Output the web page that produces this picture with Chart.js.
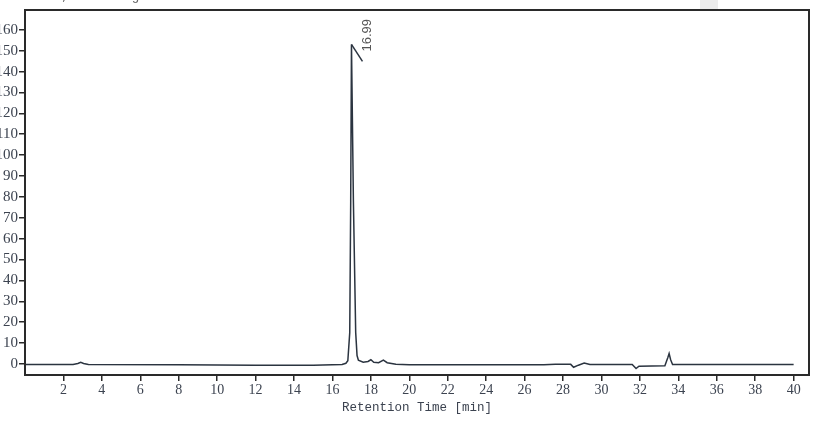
<!DOCTYPE html>
<html>
<head>
<meta charset="utf-8">
<script src="https://cdn.jsdelivr.net/npm/chart.js@4.4.1/dist/chart.umd.min.js"></script>
<style>
  html, body { margin: 0; padding: 0; background: #fff; }
  #wrap { width: 818px; height: 421px; position: relative; }
</style>
</head>
<body>
<div id="wrap"><canvas id="chart" width="818" height="421"></canvas></div>
<script>
// retention time (min) and detector response
const times = [
    0, 2.5, 2.75, 2.9, 3.05, 3.3, 8, 12, 15, 16.5, 16.7, 16.8,
    16.9, 16.95, 16.99, 17.09, 17.21, 17.28, 17.35, 17.6, 17.85, 18.0, 18.15, 18.4,
    18.65, 18.85, 19.3, 20, 27, 27.6, 28.4, 28.55, 28.8, 29.1, 29.4, 31.6,
    31.8, 31.95, 33.3, 33.45, 33.52, 33.6, 33.7, 40
];
const signal = [
    -0.3, -0.3, 0.2, 0.8, 0.2, -0.3, -0.4, -0.6, -0.6, -0.3, 0.3, 1.5,
    15, 78, 153, 78, 15, 4, 1.8, 0.8, 1.2, 2.0, 0.8, 0.6,
    1.8, 0.6, -0.2, -0.4, -0.4, -0.2, -0.2, -1.6, -0.6, 0.4, -0.3, -0.3,
    -2.2, -1.1, -0.9, 3, 5, 2, -0.3, -0.3
];
const xTicks = [2, 4, 6, 8, 10, 12, 14, 16, 18, 20, 22, 24, 26, 28, 30, 32, 34, 36, 38, 40];
const yTicks = [0, 10, 20, 30, 40, 50, 60, 70, 80, 90, 100, 110, 120, 130, 140, 150, 160];
const peakTime = 16.99;
const peakValue = 153;
const peakLabel = "16.99";
const headerText = "VWD1, Wavelength=280 nm";

const points = times.map((t, i) => ({ x: t, y: signal[i] }));

const framePlugin = {
    id: "frame",
    afterDraw(c) {
        const ctx = c.ctx;
        const a = c.chartArea;
        const xs = c.scales.x, ys = c.scales.y;
        ctx.save();
        // header, mostly cut off at the top
        ctx.fillStyle = "#666";
        ctx.font = "13px 'Liberation Mono'";
        ctx.textBaseline = "bottom";
        ctx.fillText(headerText, 30, 3);
        ctx.fillStyle = "#ececec";
        ctx.fillRect(700, 0, 18, 9);
        // frame
        ctx.strokeStyle = "#2a2a2a";
        ctx.lineWidth = 2;
        ctx.strokeRect(a.left, a.top, a.right - a.left, a.bottom - a.top);
        // peak label
        const px = xs.getPixelForValue(peakTime);
        const py = ys.getPixelForValue(peakValue);
        ctx.strokeStyle = "#2b3440";
        ctx.lineWidth = 1.5;
        ctx.beginPath();
        ctx.moveTo(px, py);
        ctx.lineTo(px + 11, py + 17);
        ctx.stroke();
        ctx.translate(px + 16, py + 7);
        ctx.rotate(-Math.PI / 2);
        ctx.fillStyle = "#555";
        ctx.font = "13px 'Liberation Sans'";
        ctx.textBaseline = "middle";
        ctx.textAlign = "left";
        ctx.fillText(peakLabel, 0, 0);
        ctx.restore();
    }
};

new Chart(document.getElementById("chart").getContext("2d"), {
    type: "line",
    data: {
        datasets: [{
            data: points,
            borderColor: "#2b3440",
            borderWidth: 1.5,
            pointRadius: 0,
            tension: 0,
            fill: false
        }]
    },
    options: {
        responsive: false,
        animation: false,
        devicePixelRatio: 1,
        layout: { padding: { left: 0, top: 10, right: 9, bottom: 0 } },
        plugins: {
            legend: { display: false },
            tooltip: { enabled: false }
        },
        scales: {
            x: {
                type: "linear",
                min: 0,
                max: 40.8,
                afterBuildTicks: s => { s.ticks = xTicks.map(v => ({ value: v })); },
                afterFit: s => { s.height = 46; },
                grid: { drawOnChartArea: false, drawTicks: true, tickLength: 6, color: "#2a2a2a", lineWidth: 1.5 },
                border: { display: true, color: "#2a2a2a", width: 2 },
                ticks: {
                    color: "#3c4350",
                    font: { family: "'Liberation Serif'", size: 14 },
                    padding: 1,
                    maxRotation: 0,
                    autoSkip: false
                },
                title: {
                    display: true,
                    text: "Retention Time [min]",
                    color: "#3c4350",
                    font: { family: "'Liberation Mono'", size: 12.5 },
                    padding: { top: 0, bottom: 6 }
                }
            },
            y: {
                min: -5.3,
                max: 169.5,
                afterBuildTicks: s => { s.ticks = yTicks.map(v => ({ value: v })); },
                afterFit: s => { s.width = 25; },
                grid: { drawOnChartArea: false, drawTicks: true, tickLength: 6, color: "#2a2a2a", lineWidth: 1.5 },
                border: { display: true, color: "#2a2a2a", width: 2 },
                ticks: {
                    color: "#3c4350",
                    font: { family: "'Liberation Serif'", size: 15 },
                    padding: 1,
                    autoSkip: false
                }
            }
        }
    },
    plugins: [framePlugin]
});
</script>
</body>
</html>
